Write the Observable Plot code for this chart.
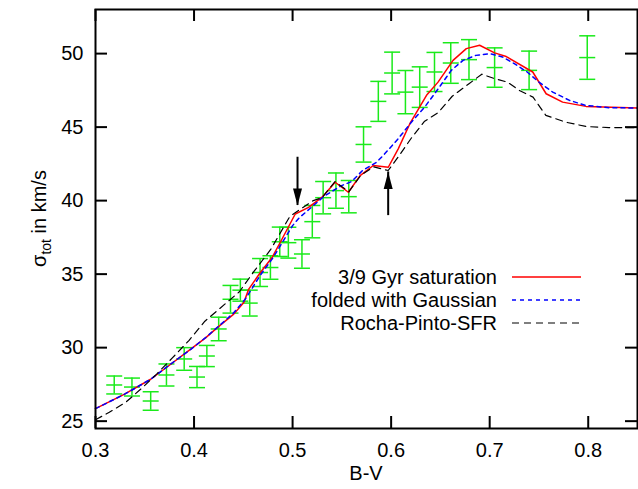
<!DOCTYPE html>
<html><head><meta charset="utf-8">
<script src="https://cdn.jsdelivr.net/npm/d3@7"></script>
<script src="https://cdn.jsdelivr.net/npm/@observablehq/plot@0.6"></script>
<style>body{margin:0;background:#fff} #chart{width:638px;height:489px}</style>
</head><body><div id="chart"></div>
<script>
// ---- data ----
const xTicks = [0.3, 0.4, 0.5, 0.6, 0.7, 0.8];
const yTicks = [25, 30, 35, 40, 45, 50];

const obsBV    = [0.319,0.337,0.356,0.372,0.390,0.403,0.413,0.425,0.437,0.447,0.4565,0.467,0.4775,0.487,0.4957,0.5095,0.520,0.531,0.544,0.557,0.572,0.587,0.601,0.6145,0.629,0.644,0.6605,0.679,0.705,0.740,0.799];
const obsSigma = [27.46,27.32,26.37,28.14,29.23,28.0,29.43,31.27,33.29,33.91,33.03,35.11,35.45,37.2,37.14,36.37,38.57,40.2,40.68,40.27,43.82,46.75,48.68,47.38,47.72,48.75,49.36,49.59,49.05,48.86,49.73];
const obsErr   = [0.61,0.61,0.63,0.75,0.77,0.72,0.72,0.8,0.94,0.75,0.88,0.95,0.8,1.0,1.05,0.97,1.1,1.1,1.2,1.1,1.2,1.36,1.42,1.47,1.38,1.33,1.38,1.36,1.34,1.31,1.48];

const satBV    = [0.300,0.329,0.356,0.3763,0.3966,0.4117,0.4236,0.4403,0.4505,0.4555,0.4673,0.4792,0.4893,0.5027,0.5162,0.5297,0.5432,0.5566,0.5685,0.5819,0.5971,0.6072,0.619,0.6359,0.6476,0.6628,0.6763,0.6898,0.705,0.7168,0.7437,0.7573,0.774,0.7977,0.85];
const satSigma = [25.85,26.82,27.85,28.87,29.9,30.66,31.36,32.28,33.07,33.98,35.11,36.13,37.39,39.09,39.54,40.22,41.25,40.57,41.7,42.39,42.27,43.52,45.23,47.16,48.06,49.54,50.34,50.57,50.05,49.8,48.75,47.27,46.7,46.41,46.3];

const gaussBV    = [0.300,0.33,0.356,0.376,0.397,0.412,0.424,0.44,0.452,0.467,0.48,0.49,0.50,0.507,0.52,0.532,0.549,0.56,0.571,0.585,0.592,0.607,0.622,0.634,0.649,0.661,0.673,0.686,0.700,0.713,0.725,0.738,0.75,0.764,0.781,0.797,0.821,0.85];
const gaussSigma = [25.85,26.85,27.85,28.87,29.9,30.7,31.4,32.35,33.3,34.9,36.1,37.2,38.3,38.85,39.6,40.3,41.0,41.3,42.05,42.6,43.07,44.2,45.45,46.36,47.72,48.86,49.54,49.88,50.0,49.77,49.32,48.75,48.06,47.38,46.82,46.48,46.32,46.3];

const rochaBV    = [0.300,0.314,0.331,0.348,0.362,0.378,0.395,0.411,0.425,0.446,0.461,0.478,0.497,0.503,0.521,0.530,0.543,0.557,0.569,0.582,0.597,0.607,0.621,0.634,0.648,0.662,0.679,0.692,0.705,0.718,0.73,0.744,0.757,0.777,0.798,0.821,0.85];
const rochaSigma = [25.1,25.6,26.3,27.3,28.2,29.3,30.5,31.8,32.6,33.8,35.2,36.7,38.9,39.2,40.0,40.2,41.3,40.6,41.7,42.3,42.05,42.95,44.3,45.4,46.0,47.1,47.95,48.6,48.3,48.06,47.5,47.04,45.8,45.34,45.04,44.97,44.96];

const arrowBV    = [0.505, 0.597];
const arrowFrom  = [42.95, 38.98];
const arrowTo    = [39.67, 41.95];

const seriesNames = ["3/9 Gyr saturation", "folded with Gaussian", "Rocha-Pinto-SFR"];
const seriesColors = ["#ff0000", "#0000ff", "#000000"];
const seriesDash = [null, "4,4", "7,5"];

// ---- layout ----
const W = 638, H = 489, mL = 95, mR = 1, mT = 9, mB = 61;
const fw = W - mL - mR, fh = H - mT - mB;
const tickLen = 12;
const green = "#1aea1a";
const font = "'Liberation Sans', Arial, sans-serif";

const obs = obsBV.map((x, i) => ({x, y: obsSigma[i], lo: obsSigma[i] - obsErr[i], hi: obsSigma[i] + obsErr[i]}));
const mk = (xs, ys) => xs.map((x, i) => ({x, y: ys[i]}));
const sat = mk(satBV, satSigma), gauss = mk(gaussBV, gaussSigma), rocha = mk(rochaBV, rochaSigma);
const arrows = arrowBV.map((x, i) => ({x, from: arrowFrom[i], to: arrowTo[i], down: arrowTo[i] < arrowFrom[i]}));

const hbar = {draw(ctx, size) { const r = Math.sqrt(size / Math.PI); ctx.moveTo(-r, 0); ctx.lineTo(r, 0); }};
const headDown = {draw(ctx) { ctx.moveTo(0, 0); ctx.lineTo(-4.5, -17); ctx.lineTo(4.5, -17); ctx.closePath(); }};
const headUp = {draw(ctx) { ctx.moveTo(0, 0); ctx.lineTo(-4.5, 17); ctx.lineTo(4.5, 17); ctx.closePath(); }};

const chart = Plot.plot({
  width: W, height: H,
  marginLeft: mL, marginRight: mR, marginTop: mT, marginBottom: mB,
  style: {fontFamily: font, background: "#fff", color: "#000"},
  x: {domain: [0.3, 0.85]},
  y: {domain: [24.5, 53]},
  marks: [
    Plot.ruleX(obs, {x: "x", y1: "lo", y2: "hi", stroke: green, strokeWidth: 1.5}),
    Plot.dot(obs, {x: "x", y: "lo", symbol: hbar, r: 8, fill: "none", stroke: green, strokeWidth: 1.5}),
    Plot.dot(obs, {x: "x", y: "hi", symbol: hbar, r: 8, fill: "none", stroke: green, strokeWidth: 1.5}),
    Plot.dot(obs, {x: "x", y: "y", symbol: hbar, r: 8, fill: "none", stroke: green, strokeWidth: 1.5}),
    Plot.line(sat, {x: "x", y: "y", stroke: seriesColors[0], strokeWidth: 1.5}),
    Plot.line(gauss, {x: "x", y: "y", stroke: seriesColors[1], strokeWidth: 1.5, strokeDasharray: seriesDash[1]}),
    Plot.line(rocha, {x: "x", y: "y", stroke: seriesColors[2], strokeWidth: 1.2, strokeDasharray: seriesDash[2]}),
    Plot.ruleX(arrows, {x: "x", y1: "from", y2: "to", stroke: "#000", strokeWidth: 2}),
    Plot.dot(arrows.filter(d => d.down), {x: "x", y: "to", symbol: headDown, fill: "#000", stroke: "none"}),
    Plot.dot(arrows.filter(d => !d.down), {x: "x", y: "to", symbol: headUp, fill: "#000", stroke: "none"}),
    Plot.ruleX(xTicks, {x: d => d, insetTop: fh - tickLen, stroke: "#000", strokeWidth: 2}),
    Plot.ruleX(xTicks, {x: d => d, insetBottom: fh - tickLen, stroke: "#000", strokeWidth: 2}),
    Plot.ruleY(yTicks, {y: d => d, insetRight: fw - tickLen, stroke: "#000", strokeWidth: 2}),
    Plot.ruleY(yTicks, {y: d => d, insetLeft: fw - tickLen, stroke: "#000", strokeWidth: 2}),
    Plot.frame({stroke: "#000", strokeWidth: 2}),
    Plot.axisX({ticks: xTicks, tickSize: 0, tickPadding: 14, fontSize: 20, tickFormat: d => d.toFixed(1), label: null}),
    Plot.axisY({ticks: yTicks, tickSize: 0, tickPadding: 12, fontSize: 20, label: null})
  ]
});
document.getElementById("chart").appendChild(chart);

const svg = d3.select(chart);
// x label
svg.append("text").attr("x", mL + fw / 2).attr("y", H - 9)
  .attr("text-anchor", "middle").attr("font-size", 20).attr("font-family", font).attr("fill", "#000").text("B-V");
// y label with subscript
const yl = svg.append("text").attr("transform", `translate(46,${mT + fh / 2}) rotate(-90)`)
  .attr("text-anchor", "middle").attr("font-size", 20).attr("font-family", font).attr("fill", "#000");
yl.append("tspan").text("σ");
yl.append("tspan").attr("font-size", 14).attr("dy", 5).text("tot");
yl.append("tspan").attr("dy", -5).text(" in km/s");

// legend
const lg = svg.append("g").attr("font-family", font).attr("font-size", 20);
seriesNames.forEach((name, i) => {
  const cy = 277 + 23 * i;
  lg.append("text").attr("x", 497).attr("y", cy).attr("dy", "0.35em").attr("text-anchor", "end").attr("fill", "#000").text(name);
  lg.append("line").attr("x1", 512).attr("x2", 581).attr("y1", cy).attr("y2", cy)
    .attr("stroke", seriesColors[i]).attr("stroke-width", i === 2 ? 1.2 : 1.5)
    .attr("stroke-dasharray", seriesDash[i]);
});
</script>
</body></html>
